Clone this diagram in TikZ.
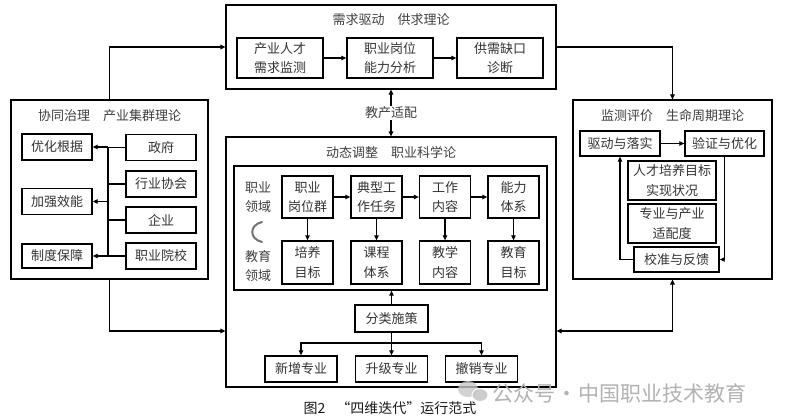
\documentclass[tikz,border=0pt]{standalone}
\usepackage{fontspec}
\setmainfont{Noto Sans CJK SC}
\usetikzlibrary{arrows.meta}
\begin{document}
\begin{tikzpicture}[x=1pt,y=-1pt,
  outer/.style={draw=black, line width=1.1pt, inner sep=0pt},
  box/.style={draw=black, line width=1.3pt, inner sep=0pt, align=center,
    text=black!80, font=\fontsize{13}{19.5}\selectfont},
  ttl/.style={text=black!75, font=\fontsize{13}{15}\selectfont, inner sep=1pt},
  lab/.style={text=black!75, align=center, inner sep=1pt, font=\fontsize{13}{19.5}\selectfont},
  ln/.style={line width=1.1pt, draw=black},
  arr/.style={ln, -{Triangle[length=5pt,width=4.5pt]}},
  darr/.style={ln, {Triangle[length=5pt,width=4.5pt]}-{Triangle[length=5pt,width=4.5pt]}}
]
\useasboundingbox (0,0) rectangle (785,420);
\fill[white] (0,0) rectangle (785,420);

% ---------- top box ----------
\node[outer, minimum width=330pt, minimum height=84pt] (T) at (391,47) {};
\node[ttl] (Tt) at (391,20) {需求驱动\hspace{1em}供求理论};
\node[box, minimum width=86pt, minimum height=40pt] (T1) at (280,58) {产业人才\\需求监测};
\node[box, minimum width=86pt, minimum height=40pt] (T2) at (390,58) {职业岗位\\能力分析};
\node[box, minimum width=86pt, minimum height=40pt] (T3) at (500,58) {供需缺口\\诊断};
\draw[arr] (T1) -- (T2);
\draw[arr] (T2) -- (T3);

% ---------- center box ----------
\node[outer, minimum width=330pt, minimum height=250pt] (C) at (391,262) {};
\node[ttl] (Ct) at (391,153) {动态调整\hspace{1em}职业科学论};
\node[outer, line width=1.3pt, minimum width=313pt, minimum height=124pt] (I) at (390.5,228) {};

\node[lab] (jc) at (391,113) {教产适配};
\draw[arr] (jc) -- (T);
\draw[arr] (jc) -- (C);

\node[lab] (zy) at (258,197) {职业\\领域};
\node[lab] (jy) at (258,266) {教育\\领域};
\draw[black!55, line width=2pt, line cap=round] (262,222) .. controls (249,225) and (249,239) .. (262,242);

\node[box, minimum width=51pt, minimum height=42pt] (A1) at (307.5,197) {职业\\岗位群};
\node[box, minimum width=51pt, minimum height=42pt] (A2) at (376.5,197) {典型工\\作任务};
\node[box, minimum width=51pt, minimum height=42pt] (A3) at (445,197) {工作\\内容};
\node[box, minimum width=51pt, minimum height=42pt] (A4) at (513.5,197) {能力\\体系};
\node[box, minimum width=51pt, minimum height=43pt] (B1) at (307.5,262.5) {培养\\目标};
\node[box, minimum width=51pt, minimum height=43pt] (B2) at (376.5,262.5) {课程\\体系};
\node[box, minimum width=51pt, minimum height=43pt] (B3) at (445,262.5) {教学\\内容};
\node[box, minimum width=51pt, minimum height=43pt] (B4) at (513.5,262.5) {教育\\目标};
\draw[arr] (A1) -- (A2);
\draw[arr] (A2) -- (A3);
\draw[arr] (A3) -- (A4);
\draw[arr] (A1) -- (B1);
\draw[arr] (A2) -- (B2);
\draw[arr] (A3) -- (B3);
\draw[arr] (A4) -- (B4);

\node[box, minimum width=73pt, minimum height=27pt] (F) at (391.5,318.5) {分类施策};
\draw[arr] (F.north) -- (F.north |- I.south);
\node[box, minimum width=72pt, minimum height=26pt] (N1) at (301,369) {新增专业};
\node[box, minimum width=72pt, minimum height=26pt] (N2) at (391.5,369) {升级专业};
\node[box, minimum width=72pt, minimum height=26pt] (N3) at (481.5,369) {撤销专业};
\coordinate (br) at (391.5,343);
\draw[arr] (F.south) -- (N2.north);
\draw[arr] (br) -| (N1.north);
\draw[arr] (br) -| (N3.north);

% ---------- left box ----------
\node[outer, minimum width=197pt, minimum height=179pt] (L) at (109.5,189.5) {};
\node[ttl] (Lt) at (109.5,116) {协同治理\hspace{1em}产业集群理论};
\node[box, minimum width=70pt, minimum height=26pt] (P1) at (57,147) {优化根据};
\node[box, minimum width=70pt, minimum height=26pt] (P2) at (57,201.5) {加强效能};
\node[box, minimum width=70pt, minimum height=24pt] (P3) at (57,256) {制度保障};
\node[box, minimum width=70pt, minimum height=26pt] (Q1) at (161,147.5) {政府};
\node[box, minimum width=70pt, minimum height=26pt] (Q2) at (161,184) {行业协会};
\node[box, minimum width=70pt, minimum height=26pt] (Q3) at (161,220) {企业};
\node[box, minimum width=70pt, minimum height=26pt] (Q4) at (161,256) {职业院校};
\coordinate (b1) at (108,147.5);
\coordinate (b4) at (108,256);
\draw[ln] (b1) -- (b4);
\draw[ln] (Q1.west) -- (Q1.west -| b1);
\draw[ln] (Q2.west) -- (Q2.west -| b1);
\draw[ln] (Q3.west) -- (Q3.west -| b1);
\draw[ln] (Q4.west) -- (Q4.west -| b1);
\draw[arr] (P1.east -| b1) -- (P1.east);
\draw[arr] (P2.east -| b1) -- (P2.east);
\draw[arr] (P3.east -| b1) -- (P3.east);

% ---------- right box ----------
\node[outer, minimum width=199pt, minimum height=179pt] (R) at (672.5,189.5) {};
\node[ttl] (Rt) at (672.5,116) {监测评价\hspace{1em}生命周期理论};
\node[box, minimum width=80pt, minimum height=25pt] (R1) at (620,143.5) {驱动与落实};
\node[box, minimum width=79pt, minimum height=25pt] (R2) at (724.5,143.5) {验证与优化};
\node[box, minimum width=88pt, minimum height=39pt] (R3) at (672,180.5) {人才培养目标\\实现状况};
\node[box, minimum width=88pt, minimum height=39pt] (R4) at (672,223.5) {专业与产业\\适配度};
\node[box, minimum width=85pt, minimum height=25pt] (R5) at (676.5,259.5) {校准与反馈};
\draw[arr] (R1) -- (R2);
\draw[arr] (R2.south) |- (R5.east);
\draw[arr] (R5.west) -| (R1.south);

% ---------- outer connectors ----------
\coordinate (yb) at (0,331);
\draw[arr] (L.north) |- (T.west);
\draw[arr] (T.east) -| (R.north);
\draw[arr] (L.south) |- (C.west |- yb);
\draw[darr] (R.south) |- (C.east |- yb);

% ---------- caption and watermark ----------
\node[text=black!90, font=\fontsize{14}{16}\selectfont] (cap) at (390,408) {图2\hspace{0.8em}“四维迭代”运行范式};
\fill[black!22, opacity=0.8] (468,389) ellipse [x radius=10, y radius=8];
\filldraw[fill=black!22, draw=white, line width=1pt, opacity=0.9] (480,395) ellipse [x radius=8, y radius=6.5];
\node[text=black!30, anchor=west, inner sep=0pt, font=\fontsize{21}{21}\selectfont] (wm) at (492,393) {公众号\hspace{1pt}·\hspace{1pt}中国职业技术教育};
\end{tikzpicture}
\end{document}
